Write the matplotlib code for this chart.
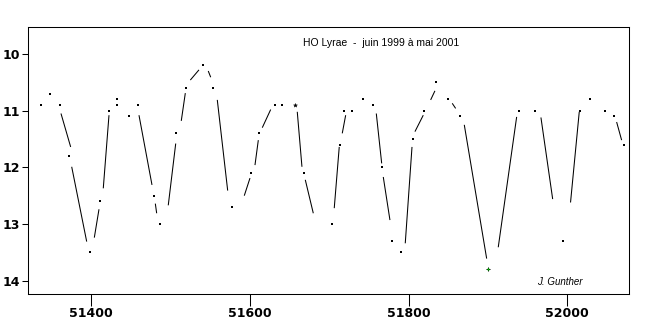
"""Light curve of HO Lyrae, June 1999 to May 2001."""

import matplotlib
matplotlib.use("Agg")
import matplotlib.pyplot as plt

# Visual estimates (JD - 2400000, magnitude).
obs_jd = [51336, 51348, 51361, 51372, 51398, 51411, 51422, 51433, 51433, 51447,
          51459, 51479, 51487, 51507, 51519, 51541, 51553, 51577, 51601, 51611,
          51631, 51640, 51668, 51704, 51713, 51718, 51729, 51743, 51755, 51766,
          51779, 51790, 51805, 51819, 51835, 51849, 51865, 51939, 51959, 51994,
          52016, 52028, 52047, 52059, 52071]
obs_mag = [10.9, 10.7, 10.9, 11.8, 13.5, 12.6, 11.0, 10.8, 10.9, 11.1,
           10.9, 12.5, 13.0, 11.4, 10.6, 10.2, 10.6, 12.7, 12.1, 11.4,
           10.9, 10.9, 12.1, 13.0, 11.6, 11.0, 11.0, 10.8, 10.9, 12.0,
           13.3, 13.5, 11.5, 11.0, 10.5, 10.8, 11.1, 11.0, 11.0, 13.3,
           11.0, 10.8, 11.0, 11.1, 11.6]

# Uncertain estimate and fainter-than limit.
uncertain_jd = [51657]
uncertain_mag = [10.9]
limit_jd = [51900]
limit_mag = [13.8]

# Mean curve drawn as separate strokes: start and end of each stroke.
curve_jd0 = [51361.8, 51375.3, 51403.8, 51415.1, 51460.1, 51480.7, 51497.0, 51513.4,
             51524.8, 51547.4, 51558.8, 51592.8, 51606.3, 51615.5, 51659.6, 51669.7,
             51706.2, 51716.3, 51759.2, 51768.0, 51795.7, 51807.9, 51827.7, 51854.9,
             51870.1, 51912.9, 51966.7, 52004.0, 52062.1]
curve_mag0 = [11.05, 11.99, 13.24, 12.37, 11.08, 12.64, 12.67, 11.18,
              10.46, 10.30, 10.81, 12.50, 11.96, 11.30, 11.02, 12.22,
              12.72, 11.40, 11.05, 12.17, 13.34, 11.37, 10.81, 10.87,
              11.25, 13.41, 11.12, 12.62, 11.20]
curve_jd1 = [51374.0, 51394.2, 51409.7, 51422.3, 51476.5, 51482.4, 51506.4, 51518.5,
             51535.7, 51550.5, 51571.9, 51600.0, 51610.5, 51626.1, 51665.5, 51679.8,
             51712.5, 51720.6, 51766.0, 51776.4, 51804.2, 51818.4, 51833.1, 51859.2,
             51898.3, 51936.1, 51981.5, 52015.0, 52068.4]
curve_mag1 = [11.64, 13.31, 12.74, 11.08, 12.31, 12.81, 11.58, 10.69,
              10.28, 10.41, 12.41, 12.19, 11.52, 10.98, 11.99, 12.81,
              11.64, 11.08, 11.93, 12.93, 11.64, 11.08, 10.65, 10.96,
              13.61, 11.11, 12.56, 11.02, 11.52]

x_ticks = [51400, 51600, 51800, 52000]
y_ticks = [10, 11, 12, 13, 14]

fig = plt.figure(figsize=(6.49, 3.35), dpi=100)
ax = fig.add_axes([0.0436, 0.1215, 0.9251, 0.797])

for x0, y0, x1, y1 in zip(curve_jd0, curve_mag0, curve_jd1, curve_mag1):
    ax.plot([x0, x1], [y0, y1], color="black", linewidth=0.75,
            solid_capstyle="butt")

ax.plot(obs_jd, obs_mag, linestyle="none", marker="s", markersize=1.6,
        color="black", markeredgewidth=0)
ax.plot(uncertain_jd, uncertain_mag, linestyle="none", marker="*", markersize=3,
        color="black", markeredgewidth=0.3)
ax.plot(limit_jd, limit_mag, linestyle="none", marker="+", markersize=3.5,
        color="black", markeredgewidth=0.7)
ax.plot(limit_jd, limit_mag, linestyle="none", marker="s", markersize=1.4,
        color="#00C000", markeredgewidth=0)

ax.set_xlim(51320.6, 52077.3)
ax.set_ylim(14.24, 9.529)
ax.set_xticks(x_ticks)
ax.set_yticks(y_ticks)
ax.tick_params(axis="x", direction="out", length=8.5, width=0.75, pad=1,
               labelsize=9)
ax.tick_params(axis="y", direction="out", length=4.5, width=0.75, pad=1.5,
               labelsize=9)
for label in ax.get_xticklabels() + ax.get_yticklabels():
    label.set_fontweight("bold")
for spine in ax.spines.values():
    spine.set_linewidth(0.75)

fig.text(0.4669, 0.8716, "HO Lyrae  -  juin 1999 à mai 2001", ha="left",
         va="center", fontsize=7.5, family="Liberation Sans")
fig.text(0.8275, 0.158, "J. Gunther", ha="left", va="center", fontsize=7,
         style="italic", family="Liberation Sans")

fig.savefig("out.png", dpi=100)
